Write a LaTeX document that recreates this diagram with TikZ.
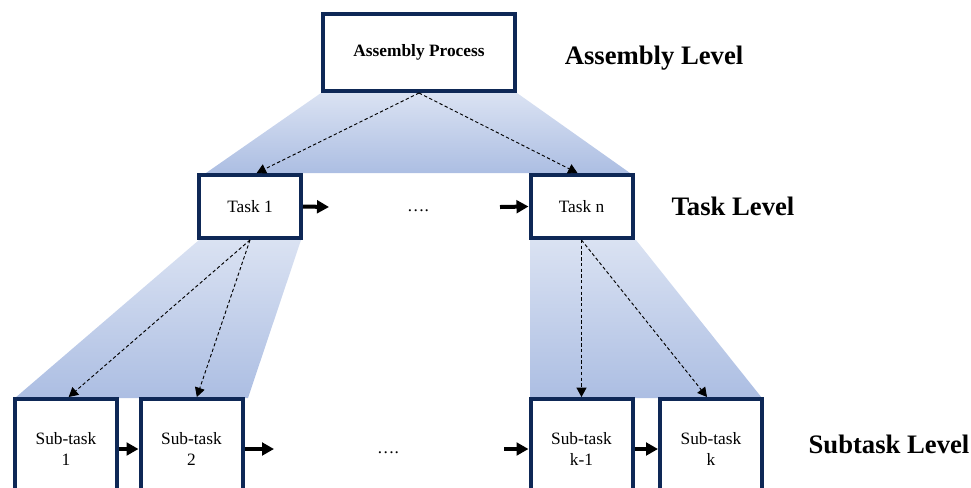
\documentclass[tikz,border=0pt]{standalone}
\usepackage{fontspec}
\setmainfont{Liberation Serif}
\usetikzlibrary{arrows.meta}
\definecolor{boxnavy}{RGB}{14,40,86}
\definecolor{fadeblue}{RGB}{162,182,223}
\pgfdeclareverticalshading{levelfade}{100bp}{color(0bp)=(fadeblue!75!white); color(14bp)=(fadeblue); color(100bp)=(fadeblue!15!white)}
\def\boxfont{\fontsize{13}{16}\selectfont}

\begin{document}
\begin{tikzpicture}[x=0.75pt,y=-0.75pt,
	stepbox/.style={draw=boxnavy, line width=3pt, fill=white, align=center, font=\boxfont,
		minimum width=76.5pt, minimum height=47.25pt, inner sep=0pt},
	subbox/.style={stepbox, minimum height=75pt},
	levellabel/.style={font=\bfseries\fontsize{20}{24}\selectfont},
	decomp/.style={dash pattern=on 2.5pt off 1.8pt, line width=0.7pt, -{Triangle[length=7pt,width=7.5pt]}},
	seq/.style={line width=3pt, -{Triangle[length=9pt,width=9.5pt]}}]
			%%%%% START %%%%%
			\useasboundingbox (0,0) rectangle (971,487);
			\clip (0,0) rectangle (971,487);
			
			% shaded fans between the levels
			\shade[shading=levelfade] (321,93) -- (517,93) -- (630,173) -- (206,173) -- cycle;
			\shade[shading=levelfade] (199,240) -- (301,240) -- (248,398) -- (15,398) -- cycle;
			\shade[shading=levelfade] (530,240) -- (636,240) -- (762,398) -- (530,398) -- cycle;
			
			% assembly level
			\node[stepbox, minimum width=144pt, minimum height=57.75pt, font=\bfseries\boxfont] (asm) at (419,52.5) {Assembly Process};
			
			% task level
			\node[stepbox] (task1) at (250,206.5) {Task 1};
			\node[stepbox] (taskn) at (581.5,206.5) {Task n};
			\node[font=\boxfont] (taskdots) at (418,211) {….};
			\coordinate (taskout) at (329,207);
			\coordinate (taskin) at (500,207);
			
			% subtask level
			\node[subbox] (sub1) at (66,449) {Sub-task\\1};
			\node[subbox] (sub2) at (191.5,449) {Sub-task\\2};
			\node[subbox] (subk1) at (581.5,449) {Sub-task\\k-1};
			\node[subbox] (subk) at (711,449) {Sub-task\\k};
			\node[font=\boxfont] (subdots) at (388,453) {….};
			\coordinate (subout) at (274,449);
			\coordinate (subin) at (504,449);
			
			% level names
			\node[levellabel] (lvlasm) at (654,58) {Assembly Level};
			\node[levellabel] (lvltask) at (733,206) {Task Level};
			\node[levellabel] (lvlsub) at (889,444) {Subtask Level};
			
			% decomposition arrows
			\draw[decomp] (asm.south) -- ([xshift=5pt]task1.north);
			\draw[decomp] (asm.south) -- ([xshift=-3pt]taskn.north);
			\draw[decomp] (task1.south) -- ([xshift=2pt]sub1.north);
			\draw[decomp] (task1.south) -- ([xshift=4pt]sub2.north);
			\draw[decomp] (taskn.south) -- (subk1.north);
			\draw[decomp] (taskn.south) -- ([xshift=-3pt]subk.north);
			
			% sequence arrows
			\draw[seq] (task1.east) -- (taskout);
			\draw[seq] (taskin) -- (taskn.west);
			\draw[seq] (sub1) -- (sub2);
			\draw[seq] (sub2.east) -- (subout);
			\draw[seq] (subin) -- (subk1.west);
			\draw[seq] (subk1) -- (subk);
			%%%%% END %%%%%
\end{tikzpicture}
\end{document}
